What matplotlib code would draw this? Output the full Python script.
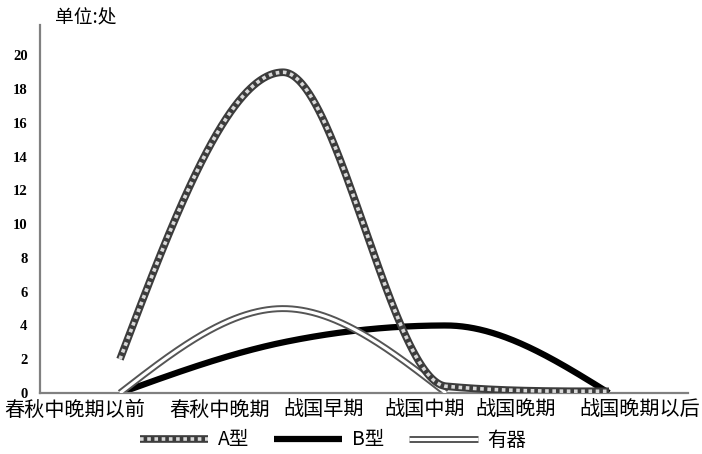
import numpy as np
import matplotlib
matplotlib.use("Agg")
import matplotlib.pyplot as plt
from matplotlib.legend_handler import HandlerTuple

plt.rcParams['font.family'] = ['Noto Sans CJK SC', 'DejaVu Sans']

# ---- data ----
periods = ["春秋中晚期以前", "春秋中晚期", "战国早期", "战国中期", "战国晚期", "战国晚期以后"]
point_idx = [0, 1, 2, 3]
series_A = [2, 19, 0.4, 0.1]
series_B = [0, 3, 4, 0]
series_C = [0, 5, 0, np.nan]
names = ["A型", "B型", "有器"]
yticks = list(range(0, 22, 2))

# label positions (in point-index units)
label_pos = [-0.28, 0.61, 1.25, 1.87, 2.43, 3.19]


def smooth(x, y, n=200):
    """Cubic Hermite smoothing: Catmull-Rom tangents, limited to avoid overshoot."""
    x = np.asarray(x, float); y = np.asarray(y, float)
    m = ~np.isnan(y)
    x, y = x[m], y[m]
    h = np.diff(x); d = np.diff(y) / h
    k = len(x)
    s = np.zeros(k)
    for i in range(1, k - 1):
        if d[i - 1] * d[i] <= 0:
            s[i] = 0.0
        else:
            cr = (y[i + 1] - y[i - 1]) / (x[i + 1] - x[i - 1])
            lim = 3 * min(abs(d[i - 1]), abs(d[i]))
            s[i] = np.sign(cr) * min(abs(cr), lim)
    s[0] = 1.5 * d[0] - 0.5 * s[1]
    s[-1] = 1.5 * d[-1] - 0.5 * s[-2]
    xs, ys = [], []
    for i in range(k - 1):
        t = np.linspace(0, 1, n)
        hh = h[i]
        h00 = 2*t**3 - 3*t**2 + 1; h10 = t**3 - 2*t**2 + t
        h01 = -2*t**3 + 3*t**2; h11 = t**3 - t**2
        yy = h00*y[i] + h10*hh*s[i] + h01*y[i+1] + h11*hh*s[i+1]
        xs.append(x[i] + t*hh); ys.append(yy)
    return np.concatenate(xs), np.concatenate(ys)


fig = plt.figure(figsize=(7.02, 4.54), dpi=100)
ax = fig.add_axes([40/702, 1-393/454, (688-40)/702, (393-25)/454])

ppu = 163.0
ax.set_xlim(-80/ppu, 3 + 79/ppu)
ax.set_ylim(0, 21.8)

xa, ya = smooth(point_idx, series_A)
xb, yb = smooth(point_idx, series_B)
xc, yc = smooth(point_idx, series_C)

a1, = ax.plot(xa, ya, color='#3c3c3c', lw=5.5, solid_capstyle='butt', zorder=3)
a2, = ax.plot(xa, ya, color='#d8d8d8', lw=2.6, ls=(0, (1.0, 1.0)), zorder=3.1)
b1, = ax.plot(xb, yb, color='black', lw=4.5, solid_capstyle='butt', zorder=2)
c1, = ax.plot(xc, yc, color='#555555', lw=5, solid_capstyle='butt', zorder=2.5)
c2, = ax.plot(xc, yc, color='white', lw=2.2, solid_capstyle='butt', zorder=2.6)

for sp in ['top', 'right']:
    ax.spines[sp].set_visible(False)
for sp in ['left', 'bottom']:
    ax.spines[sp].set_color('#808080')
    ax.spines[sp].set_linewidth(1.6)

ax.set_yticks(yticks)
ax.set_yticklabels([str(v) for v in yticks], fontfamily='Liberation Serif',
                   fontweight='bold', fontsize=10.5)
ax.tick_params(axis='y', length=0, pad=9)
ax.set_xticks(label_pos)
ax.set_xticklabels(periods, fontsize=14.5)
ax.tick_params(axis='x', length=0, pad=5)

fig.text(55/702, 1-18/454, "单位:处", fontsize=13.5, va='center', ha='left')

leg = fig.legend([(a1, a2), b1, (c1, c2)], names,
                 handler_map={tuple: HandlerTuple(ndivide=1)},
                 loc='center', bbox_to_anchor=(333/702, 1-440/454), ncol=3,
                 frameon=False, fontsize=14, handlelength=3.5, columnspacing=1.3,
                 handletextpad=0.5, borderpad=0.1)

fig.savefig("out.png", dpi=100)
